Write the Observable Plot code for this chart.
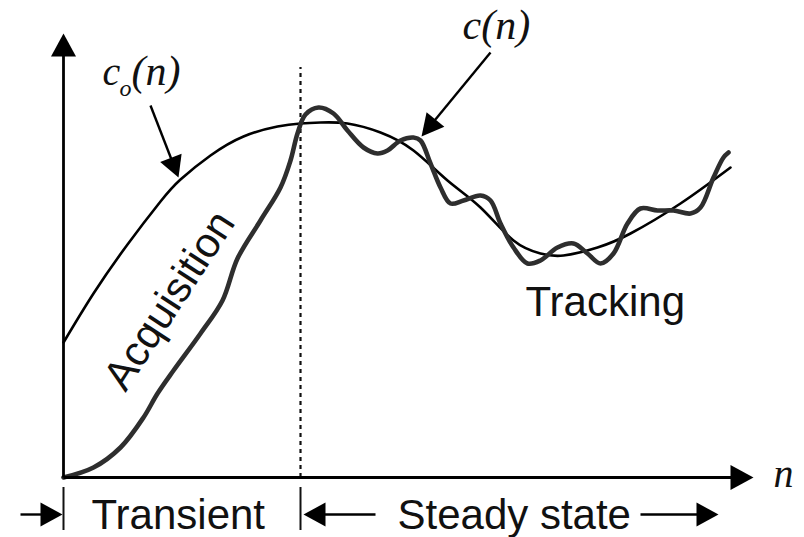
<!DOCTYPE html>
<html><head><meta charset="utf-8">
<script src="https://cdn.jsdelivr.net/npm/d3@7"></script>
<script src="https://cdn.jsdelivr.net/npm/@observablehq/plot@0.6"></script>
<style>body{margin:0;background:#fff}</style>
</head><body><div id="chart"></div>
<script>
// ---- data (n = time index, v = value; origin at the axes' corner) ----
const coN = [0, 30, 64, 97, 117, 147, 180, 214, 237, 257, 284, 317, 350, 384, 417, 450, 477, 500, 534, 567, 617, 667];
const coV = [135, 184, 233, 276, 298, 322, 341, 351, 354, 355, 354, 345, 327, 297, 270, 237, 224, 222, 230, 244, 274, 310];

const cN = [0, 30, 57, 80, 94, 110, 137, 159, 174, 197, 217, 227, 234, 242, 255, 270, 284, 300, 314, 324, 337, 350, 357, 367, 377, 387, 400, 417, 427, 437, 450, 464, 477, 494, 510, 524, 537, 550, 564, 577, 594, 610, 627, 637, 650, 660, 665];
const cV = [0, 10, 30, 60, 84, 107, 144, 177, 219, 257, 290, 317, 344, 363, 370, 364, 347, 330, 324, 327, 337, 340, 337, 314, 290, 274, 277, 282, 277, 254, 230, 214, 217, 230, 234, 224, 214, 224, 254, 269, 267, 267, 264, 270, 300, 320, 325];

const boundaryN = 237;          // end of transient phase
const boundaryTop = 410;        // top of dotted marker
const phaseTickN = [0, 237];    // phase delimiters below axis

const arrowNames = ["yAxis", "xAxis", "coLabel", "cLabel", "transientIn", "steadyLeft", "steadyRight"];
const arrowTail = [[0, 0], [0, 0], [87, 372], [427, 425], [-43, -37], [312, -37], [577, -37]];
const arrowTip  = [[0, 444], [690, 0], [115, 300], [358, 341], [-1, -37], [240, -37], [655, -37]];

const phaseLabels = ["Transient", "Steady state"];
const phaseLabelN = [28, 334];
const curveLabels = ["Acquisition", "Tracking"];

// ---- build tables ----
const co = coN.map((n, i) => ({n, v: coV[i]}));
const c = cN.map((n, i) => ({n, v: cV[i]}));

const headSize = {yAxis: [23, 25], xAxis: [23, 25], coLabel: [21, 23], cLabel: [22, 23]};
const shafts = [], heads = [];
arrowNames.forEach((name, i) => {
  const [x1, y1] = arrowTail[i], [x2, y2] = arrowTip[i];
  const [len, w] = headSize[name] || [22, 24];
  const d = Math.hypot(x2 - x1, y2 - y1), ux = (x2 - x1) / d, uy = (y2 - y1) / d;
  const bx = x2 - len * ux, by = y2 - len * uy;
  shafts.push({name, x1, y1, x2: x2 - (len - 3) * ux, y2: y2 - (len - 3) * uy});
  heads.push({name, n: x2, v: y2});
  heads.push({name, n: bx - uy * w / 2, v: by + ux * w / 2});
  heads.push({name, n: bx + uy * w / 2, v: by - ux * w / 2});
});

const serif = "'Liberation Serif', 'Times New Roman', serif";
const sans = "'Liberation Sans', Arial, Helvetica, sans-serif";

const chart = Plot.plot({
  width: 804, height: 537,
  marginTop: 0, marginRight: 0, marginBottom: 0, marginLeft: 0,
  x: {domain: [-63, 741], range: [0, 804], axis: null},
  y: {domain: [-60, 477], range: [537, 0], axis: null},
  style: {background: "#fff", overflow: "visible"},
  marks: [
    // dotted phase boundary
    Plot.ruleX([boundaryN], {y1: 0, y2: boundaryTop, stroke: "#111", strokeWidth: 2.2, strokeDasharray: "4,4"}),
    // phase ticks below the axis
    Plot.ruleX(phaseTickN, {y1: -10, y2: -53, stroke: "#111", strokeWidth: 2}),
    // optimum c_o(n)
    Plot.line(co, {x: "n", y: "v", curve: "natural", stroke: "#000", strokeWidth: 2.6}),
    // adaptive c(n)
    Plot.line(c, {x: "n", y: "v", curve: "catmull-rom", stroke: "#2e2e2e", strokeWidth: 4.6, strokeLinejoin: "round"}),
    // arrows
    Plot.link(shafts, {x1: "x1", y1: "y1", x2: "x2", y2: "y2", stroke: "#000", strokeWidth: d => d.name.endsWith("Axis") ? 2.8 : 2.4}),
    Plot.line(heads, {x: "n", y: "v", z: "name", fill: "#000", stroke: "none"}),
    // labels
    Plot.text(["c"], {x: 39, y: 393, fontFamily: serif, fontStyle: "italic", fontSize: 40, textAnchor: "start", lineAnchor: "bottom", fill: "#111"}),
    Plot.text(["o"], {x: 56, y: 382, fontFamily: serif, fontStyle: "italic", fontSize: 24, textAnchor: "start", lineAnchor: "bottom", fill: "#111"}),
    Plot.text(["(n)"], {x: 68, y: 393, fontFamily: serif, fontStyle: "italic", fontSize: 42, textAnchor: "start", lineAnchor: "bottom", fill: "#111"}),
    Plot.text(["c(n)"], {x: 399, y: 439, fontFamily: serif, fontStyle: "italic", fontSize: 42, textAnchor: "start", lineAnchor: "bottom", fill: "#111"}),
    Plot.text(["n"], {x: 710, y: -9, fontFamily: serif, fontStyle: "italic", fontSize: 40, textAnchor: "start", lineAnchor: "bottom", fill: "#111"}),
    Plot.text([curveLabels[0]], {x: 106, y: 177, rotate: -57, fontFamily: sans, fontSize: 42, textAnchor: "middle", lineAnchor: "middle", fill: "#111"}),
    Plot.text([curveLabels[1]], {x: 462, y: 162, fontFamily: sans, fontSize: 42, textAnchor: "start", lineAnchor: "bottom", fill: "#111"}),
    Plot.text(phaseLabels, {x: (d, i) => phaseLabelN[i], y: -51, fontFamily: sans, fontSize: 42, textAnchor: "start", lineAnchor: "bottom", fill: "#111"})
  ]
});
document.getElementById("chart").appendChild(chart);
</script>
</body></html>
